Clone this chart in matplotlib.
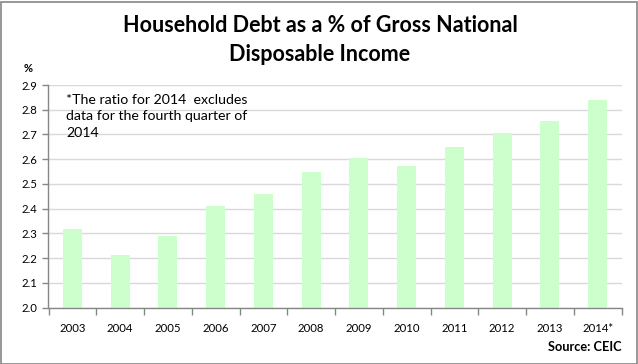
import matplotlib
matplotlib.use("Agg")
import matplotlib.pyplot as plt
from matplotlib.patches import Rectangle

years = ["2003", "2004", "2005", "2006", "2007", "2008", "2009", "2010",
         "2011", "2012", "2013", "2014*"]
ratios = [2.317, 2.212, 2.289, 2.41, 2.459, 2.548, 2.604, 2.572,
          2.649, 2.706, 2.754, 2.839]
yticks = [2.0, 2.1, 2.2, 2.3, 2.4, 2.5, 2.6, 2.7, 2.8, 2.9]

FONT = ["Lato", "DejaVu Sans"]
plt.rcParams['font.family'] = FONT

fig = plt.figure(figsize=(6.38, 3.64), dpi=100)
W, H = 638, 364
ax = fig.add_axes([48.5 / W, 1 - 307.5 / H, (621.5 - 48.5) / W, (307.5 - 85) / H])

x = list(range(len(years)))
ax.bar(x, ratios, width=0.4, color="#ccffcc", zorder=2)
ax.set_xlim(-0.5, len(years) - 0.5)
ax.set_ylim(2.0, 2.9)
ax.set_yticks(yticks)
ax.set_yticklabels([f"{v:.1f}" for v in yticks], fontsize=8.2)
ax.set_xticks(x)
ax.set_xticklabels(years, fontsize=8.2)
ax.tick_params(axis='x', length=0, pad=11)
# category boundary ticks
ax.set_xticks([i - 0.5 for i in range(len(years) + 1)], minor=True)
ax.tick_params(axis='x', which='minor', length=5, color="#868686", width=1)
ax.tick_params(axis='y', length=4, color="#868686", width=1, pad=4)
ax.yaxis.grid(True, color="#d9d9d9", linewidth=1, zorder=0)
ax.set_axisbelow(True)
for s in ["top", "right"]:
    ax.spines[s].set_visible(False)
for s in ["left", "bottom"]:
    ax.spines[s].set_color("#868686")
    ax.spines[s].set_linewidth(1)

fig.text(320 / W, 1 - 40 / H, "Household Debt as a % of Gross National\nDisposable Income",
         ha="center", va="center", fontsize=15.5, fontweight="bold",
         linespacing=1.5)
fig.text(28 / W, 1 - 68 / H, "%", ha="center", va="center", fontsize=8, fontweight="bold")
ax.text(66 / W, 1 - 94 / H, "*The ratio for 2014  excludes\ndata for the fourth quarter of\n2014",
        transform=fig.transFigure, ha="left", va="top", fontsize=10.2, linespacing=1.45)
fig.text(622 / W, 1 - 347 / H, "Source: CEIC", ha="right", va="center",
         fontsize=9.2, fontweight="bold")

fig.patches.append(Rectangle((0.5 / W, 0.5 / H), (W - 2) / W, (H - 2) / H,
                             transform=fig.transFigure, fill=False,
                             edgecolor="#868686", linewidth=1.2))

fig.savefig("out.png", dpi=100)
